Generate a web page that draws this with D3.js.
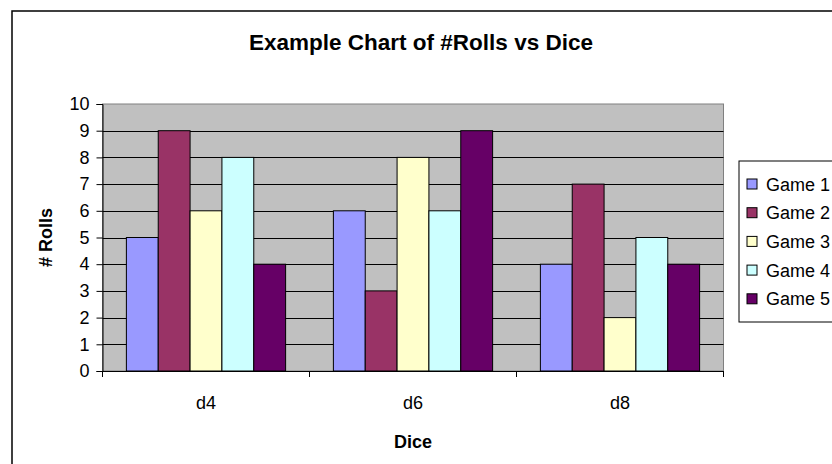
<!DOCTYPE html>
<html><head><meta charset="utf-8">
<script src="https://cdn.jsdelivr.net/npm/d3@7"></script>
<style>body{margin:0;background:#fff;} svg{display:block;font-family:"Liberation Sans",Arial,sans-serif;}</style>
</head><body>
<svg id="c" width="832" height="464"></svg>
<script>
const categories = ["d4", "d6", "d8"];
const seriesNames = ["Game 1", "Game 2", "Game 3", "Game 4", "Game 5"];
const game1 = [5, 6, 4];
const game2 = [9, 3, 7];
const game3 = [6, 8, 2];
const game4 = [8, 6, 5];
const game5 = [4, 9, 4];
const seriesValues = [game1, game2, game3, game4, game5];
const colors = ["#9999FF", "#993366", "#FFFFCC", "#CCFFFF", "#660066"];
const yTicks = [0,1,2,3,4,5,6,7,8,9,10];

const svg = d3.select("#c");
const L = 102.5, R = 723.5, T = 104, B = 371;

// chart area border
svg.append("rect").attr("x", 12).attr("y", 11).attr("width", 900).attr("height", 600)
  .attr("fill", "#fff").attr("stroke", "#000").attr("stroke-width", 1.5);

const x0 = d3.scaleBand().domain(categories).range([L, R]).paddingInner(0).paddingOuter(0);
const bw = x0.bandwidth() / 6.5;
const x1 = d3.scaleBand().domain(seriesNames).range([0.75 * bw, x0.bandwidth() - 0.75 * bw]);
const y = d3.scaleLinear().domain([0, 10]).range([B, T]);

// plot area
svg.append("rect").attr("x", L).attr("y", T).attr("width", R - L).attr("height", B - T)
  .attr("fill", "#C0C0C0").attr("stroke", "#808080").attr("stroke-width", 1);

// gridlines
svg.append("g").selectAll("line").data(yTicks.filter(d => d > 0 && d < 10)).join("line")
  .attr("x1", L).attr("x2", R).attr("y1", d => Math.round(y(d)) + 0.5).attr("y2", d => Math.round(y(d)) + 0.5)
  .attr("stroke", "#000").attr("stroke-width", 1);

// bars
const g = svg.append("g");
seriesValues.forEach((vals, si) => {
  g.selectAll(null).data(categories).join("rect")
    .attr("x", (c) => x0(c) + x1(seriesNames[si]))
    .attr("y", (c, i) => y(vals[i]))
    .attr("width", x1.bandwidth())
    .attr("height", (c, i) => B - y(vals[i]))
    .attr("fill", colors[si]).attr("stroke", "#000").attr("stroke-width", 1);
});

// y axis
const ya = svg.append("g").attr("transform", `translate(${L},0)`)
  .call(d3.axisLeft(y).tickValues(yTicks).tickSize(6).tickPadding(7).tickFormat(d3.format("d")));
ya.select(".domain").attr("stroke", "#000");
ya.selectAll("line").attr("stroke", "#000");
ya.selectAll("text").attr("font-size", 18).attr("fill", "#000").attr("font-family", '"Liberation Sans",Arial,sans-serif');

// x axis
const xa = svg.append("g").attr("transform", `translate(0,${B})`)
  .call(d3.axisBottom(x0).tickSize(0).tickPadding(0));
xa.select(".domain").attr("stroke", "#000");
xa.selectAll("text").attr("font-size", 18).attr("fill", "#000").attr("dy", 0).attr("y", 38)
  .attr("font-family", '"Liberation Sans",Arial,sans-serif');
// category boundary ticks
svg.append("g").selectAll("line").data(categories.concat(["__end"])).join("line")
  .attr("x1", (c, i) => i < categories.length ? x0(c) : R)
  .attr("x2", (c, i) => i < categories.length ? x0(c) : R)
  .attr("y1", B).attr("y2", B + 6).attr("stroke", "#000");

// titles
svg.append("text").attr("x", 421).attr("y", 50).attr("text-anchor", "middle")
  .attr("font-size", 22.5).attr("font-weight", "bold").text("Example Chart of #Rolls vs Dice");
svg.append("text").attr("transform", `translate(52,${(T + B) / 2}) rotate(-90)`).attr("text-anchor", "middle")
  .attr("font-size", 18).attr("font-weight", "bold").text("# Rolls");
svg.append("text").attr("x", (L + R) / 2).attr("y", 448).attr("text-anchor", "middle")
  .attr("font-size", 18).attr("font-weight", "bold").text("Dice");

// legend
const lg = svg.append("g").attr("transform", "translate(739,161)");
lg.append("rect").attr("x", 0).attr("y", 0).attr("width", 120).attr("height", 161)
  .attr("fill", "#fff").attr("stroke", "#000").attr("stroke-width", 1);
const items = lg.selectAll("g").data(seriesNames).join("g")
  .attr("transform", (d, i) => `translate(0,${18 + i * 28.7})`);
items.append("rect").attr("x", 8).attr("y", 0).attr("width", 10).attr("height", 10)
  .attr("fill", (d, i) => colors[i]).attr("stroke", "#000");
items.append("text").attr("x", 27).attr("y", 11.5).attr("font-size", 18).text(d => d);
</script>
</body></html>
